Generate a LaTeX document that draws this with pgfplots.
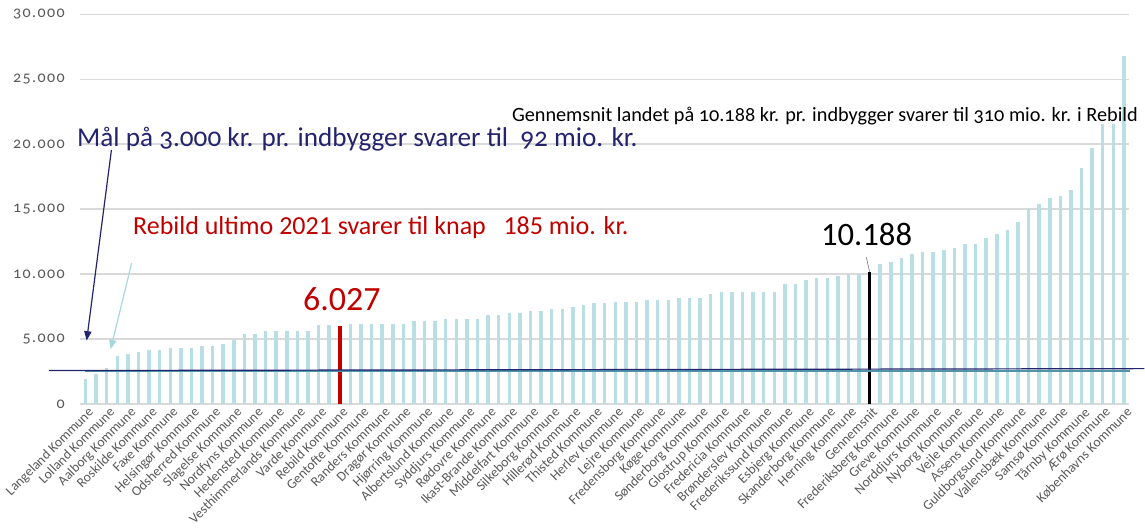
\documentclass[border=0pt]{standalone}
\usepackage{fontspec}
\setmainfont{Carlito}[Numbers=OldStyle]
\usepackage{pgfplots}
\usepackage{pgfplotstable}
\pgfplotsset{compat=1.18}
\usetikzlibrary{arrows.meta}
\definecolor{barblue}{HTML}{B9DFE5}
\definecolor{rebildred}{HTML}{C00000}
\definecolor{navy}{HTML}{23236E}
\definecolor{ticktext}{HTML}{595959}
\definecolor{gridgray}{HTML}{D9D9D9}
\definecolor{tealarrow}{HTML}{A8D8DE}
\definecolor{tealline}{HTML}{4F94A8}

\pgfplotstableread{
x y
0 1900
1 2340
2 2780
3 3730
4 3890
5 4040
6 4200
7 4200
8 4350
9 4350
10 4350
11 4500
12 4500
13 4660
14 4970
15 5430
16 5430
17 5590
18 5590
19 5590
20 5590
21 5590
22 6050
23 6050
24 6027
25 6200
26 6200
27 6200
28 6200
29 6200
30 6200
31 6360
32 6360
33 6360
34 6515
35 6515
36 6515
37 6515
38 6820
39 6820
40 6980
41 6980
42 7130
43 7130
44 7290
45 7290
46 7440
47 7600
48 7750
49 7750
50 7870
51 7870
52 7870
53 8000
54 8000
55 8000
56 8154
57 8154
58 8154
59 8460
60 8615
61 8615
62 8615
63 8615
64 8615
65 8615
66 9230
67 9230
68 9540
69 9690
70 9690
71 9850
72 10000
73 10000
74 10188
75 10790
76 10950
77 11250
78 11560
79 11720
80 11720
81 11870
82 12030
83 12330
84 12330
85 12800
86 13100
87 13410
88 14030
89 15100
90 15410
91 15870
92 16030
93 16490
94 18180
95 19720
96 21560
97 21560
98 26770
}\datatable

\begin{document}
\begin{tikzpicture}
\begin{scope}[x=0.75pt,y=-0.75pt,shift={(-60.15pt,303.225pt)}]
\path[use as bounding box] (0,0) rectangle (1145,517);
\end{scope}
\begin{axis}[
  scale only axis, width=787.2pt, height=292.5pt,
  xmin=-0.5, xmax=98.5, ymin=0, ymax=30000,
  axis line style={draw=none},
  ytick={0,5000,...,30000},
  scaled y ticks=false,
  ymajorgrids, grid style={gridgray, line width=1.1pt},
  major tick length=0pt,
  xtick={0,2,...,98},
  xticklabels={Langeland Kommune, Lolland Kommune, Aalborg Kommune, Roskilde Kommune, Faxe Kommune, Helsingør Kommune, Odsherred Kommune, Slagelse Kommune, Nordfyns Kommune, Hedensted Kommune, Vesthimmerlands Kommune, Varde Kommune, Rebild Kommune, Gentofte Kommune, Randers Kommune, Dragør Kommune, Hjørring Kommune, Albertslund Kommune, Syddjurs Kommune, Rødovre Kommune, Ikast-Brande Kommune, Middelfart Kommune, Silkeborg Kommune, Hillerød Kommune, Thisted Kommune, Herlev Kommune, Lejre Kommune, Fredensborg Kommune, Køge Kommune, Sønderborg Kommune, Glostrup Kommune, Fredericia Kommune, Brønderslev Kommune, Frederikssund Kommune, Esbjerg Kommune, Skanderborg Kommune, Herning Kommune, Gennemsnit, Frederiksberg Kommune, Greve Kommune, Norddjurs Kommune, Nyborg Kommune, Vejle Kommune, Assens Kommune, Guldborgsund Kommune, Vallensbæk Kommune, Samsø Kommune, Tårnby Kommune, Ærø Kommune, Københavns Kommune},
  xticklabel style={rotate=45, anchor=north east, font=\fontsize{10.3}{11}\selectfont, text=ticktext, inner sep=2pt, xshift=2pt},
  yticklabel style={font=\fontsize{12}{13}\selectfont\addfontfeatures{LetterSpace=9}, text=ticktext, xshift=-8pt},
  /pgf/number format/1000 sep={.},
  /pgf/number format/assume math mode=true,
  clip=false,
]
\addplot[ycomb, barblue, line width=2.6pt, mark=none] table[x=x,y=y] {\datatable};
\addplot[ycomb, rebildred, line width=2.8pt, mark=none] coordinates {(24,6027)};
\addplot[ycomb, black, line width=2.8pt, mark=none] coordinates {(74,10188)};
\addplot[tealline, line width=1.2pt, mark=none] coordinates {(-0.05,2560) (98.6,2560)};
\addplot[navy, line width=0.9pt, mark=none] coordinates {(-3.44,2580) (99.93,2730)};
\end{axis}
\begin{scope}[x=0.75pt,y=-0.75pt,shift={(-60.15pt,303.225pt)}]
\draw[navy, line width=0.9pt, -{Triangle[length=7pt,width=5.5pt]}] (111.5,150) -- (86.7,340.7);
\draw[tealarrow, line width=0.9pt, -{Triangle[length=7pt,width=5.5pt]}] (131.7,263.3) -- (110.7,349.3);
\draw[gray, line width=0.5pt] (866.7,257.3) -- (870,271.7);
\node[anchor=base west, inner sep=0, font=\fontsize{15.2}{17}\selectfont] at (512,122) {Gennemsnit landet på 10.188 kr. pr. indbygger svarer til 310 mio. kr. i Rebild};
\node[anchor=base west, inner sep=0, text=navy, font=\fontsize{20.4}{22}\selectfont] at (77,147) {Mål på 3.000 kr. pr. indbygger svarer til~~92 mio. kr.};
\node[anchor=base west, inner sep=0, text=rebildred, font=\fontsize{19.5}{21}\selectfont\addfontfeatures{Numbers=Lining}] at (133,235) {Rebild ultimo 2021 svarer til knap~~~185 mio. kr.};
\node[anchor=base, inner sep=0, text=rebildred, font=\fontsize{25.5}{28}\selectfont\addfontfeatures{Numbers=Lining}] at (342,311) {6.027};
\node[anchor=base, inner sep=0, font=\fontsize{24.5}{27}\selectfont\addfontfeatures{Numbers=Lining}] at (867,246) {10.188};
\end{scope}
\end{tikzpicture}
\end{document}
